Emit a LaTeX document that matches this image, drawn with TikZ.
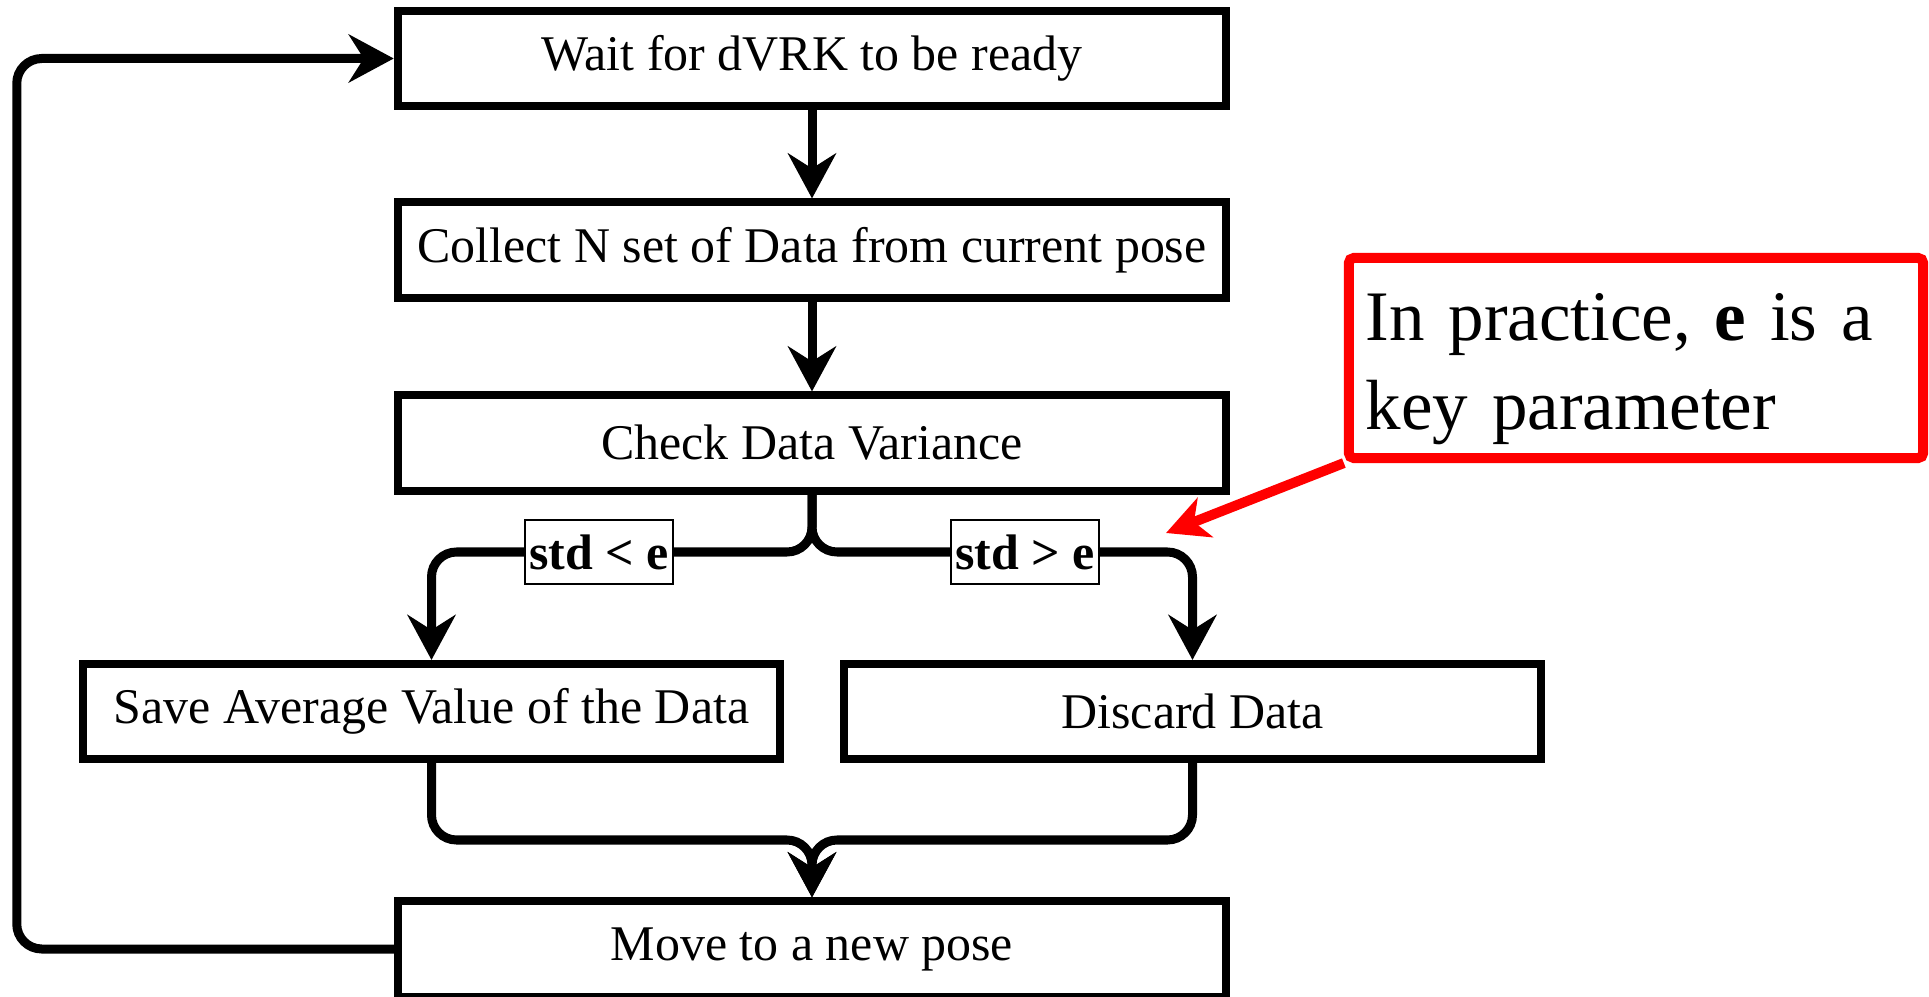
\documentclass[tikz,border=0pt]{standalone}
\usepackage{fontspec}
\setmainfont{Liberation Serif}
\usetikzlibrary{calc}
\usetikzlibrary{arrows.meta}
\tikzstyle{stepbox}=[draw,line width=0.8mm,minimum width=8.28cm,minimum height=0.95cm,inner sep=0pt,font=\fontsize{14.2}{17}\selectfont]
\tikzstyle{branchbox}=[stepbox,minimum width=6.97cm]
\tikzstyle{flow}=[line width=0.9mm,rounded corners=2.5mm,-{Stealth[length=4.5mm,width=4.8mm,inset=1.5mm]}]
\tikzstyle{cond}=[draw,sharp corners,line width=0.2mm,fill=white,inner xsep=0.4mm,inner ysep=0pt,minimum height=0.64cm,font=\fontsize{14.2}{17}\selectfont\bfseries]
\tikzstyle{notebox}=[draw=red,line width=1mm,rounded corners=0.5mm,minimum height=2cm,text width=5.4cm,inner xsep=1.7mm,align=left,font=\fontsize{20.2}{25.3}\selectfont]
\begin{document}
\begin{tikzpicture}[x=0.01cm,y=-0.01cm]
  \useasboundingbox (0,0) rectangle (1929,997);
  % main column
  \node[stepbox] (wait) at (812,58.5) {Wait for dVRK to be ready};
  \node[stepbox] (collect) at (812,250) {Collect N set of Data from current pose};
  \node[stepbox] (check) at (812,443) {Check Data Variance};
  \node[branchbox] (save) at (431.5,711.5) {Save Average Value of the Data};
  \node[branchbox] (discard) at (1192.5,711.5) {Discard Data};
  \node[stepbox] (move) at (812,949) {Move to a new pose};
  \node[notebox] (note) at (1636,358) {\rule{0pt}{0.69cm}In practice, \textbf{e} is a\\key parameter};
  \coordinate (split) at (812,552);
  \coordinate (merge) at (812,840);
  \coordinate (hint) at (1166,533);

  \draw[flow] (wait.south) -- (collect.north);
  \draw[flow] (collect.south) -- (check.north);
  \draw[flow] (check.south) -- (split) -| node[cond,pos=0.28] {std < e} (save.north);
  \draw[flow] (check.south) -- (split) -| node[cond,pos=0.28] {std > e} (discard.north);
  \draw[flow] (save.south) |- (merge) -- (move.north);
  \draw[flow] (discard.south) |- (merge) -- (move.north);
  % back to the start
  \draw[flow] (move.west) -- ++(-377,0) |- (wait.west);
  \draw[red,line width=1mm,-{Stealth[length=4.2mm,width=4.2mm,inset=1.2mm]}] (note.south west) -- (hint);
\end{tikzpicture}
\end{document}
